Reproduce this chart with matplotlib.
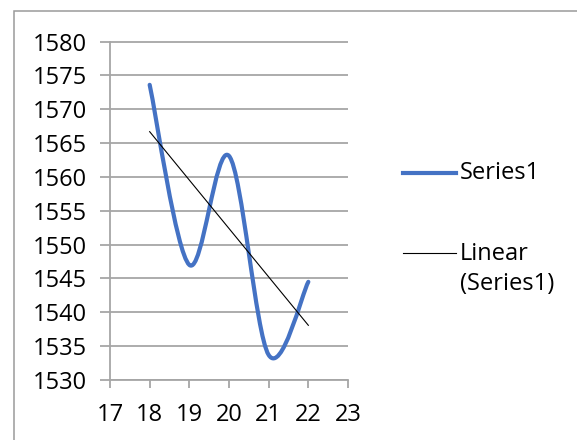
import numpy as np
import matplotlib
matplotlib.use("Agg")
import matplotlib.pyplot as plt
from matplotlib.path import Path
from matplotlib.patches import PathPatch, Rectangle
from matplotlib.lines import Line2D

plt.rcParams['font.family'] = ['Open Sans', 'DejaVu Sans']

# Data
x_vals = [18, 19, 20, 21, 22]
series1 = [1573.6, 1547.0, 1563.1, 1533.7, 1544.5]
x_ticks = [17, 18, 19, 20, 21, 22, 23]
y_ticks = [1530, 1535, 1540, 1545, 1550, 1555, 1560, 1565, 1570, 1575, 1580]
series_name = "Series1"
trend_name = "Linear\n(Series1)"

BLUE = "#4472C4"
GRID = "#A6A6A6"
FS = 17

fig = plt.figure(figsize=(5.77, 4.40), dpi=100)
fig.patch.set_facecolor("white")

# chart area border
fig.add_artist(Rectangle((14 / 577, -0.05), 1.0, 1 - 11.5 / 440 + 0.05,
                         transform=fig.transFigure, fill=False,
                         edgecolor="#9A9A9A", lw=1.1))

ax = fig.add_axes([110 / 577, 60 / 440, 238 / 577, 338.5 / 440])
ax.set_xlim(17, 23)
ax.set_ylim(1530, 1580)

# Smoothed line: cubic Bezier segments with Catmull-Rom style control points
xs = np.array(x_vals, dtype=float)
ys = np.array(series1, dtype=float)
pts = np.column_stack([xs, ys])
n = len(pts)
verts = [tuple(pts[0])]
codes = [Path.MOVETO]
for i in range(n - 1):
    p_prev = pts[i - 1] if i > 0 else pts[i]
    p_next2 = pts[i + 2] if i + 2 < n else pts[i + 1]
    c1 = pts[i] + (pts[i + 1] - p_prev) / 6.0
    c2 = pts[i + 1] - (p_next2 - pts[i]) / 6.0
    verts += [tuple(c1), tuple(c2), tuple(pts[i + 1])]
    codes += [Path.CURVE4] * 3
ax.add_patch(PathPatch(Path(verts, codes), facecolor="none", edgecolor=BLUE,
                       lw=3.0, capstyle="round", joinstyle="round", zorder=3))

# Linear trend line
slope, intercept = np.polyfit(xs, ys, 1)
tx = np.array([xs[0], xs[-1]])
ax.plot(tx, slope * tx + intercept, color="black", lw=0.8, zorder=4)

# Axes styling
ax.set_xticks(x_ticks)
ax.set_yticks(y_ticks)
ax.yaxis.grid(True, color=GRID, lw=1.3)
ax.set_axisbelow(True)
for s in ["top", "right"]:
    ax.spines[s].set_visible(False)
for s in ["left", "bottom"]:
    ax.spines[s].set_color(GRID)
    ax.spines[s].set_linewidth(1.3)
ax.tick_params(axis="y", length=7.2, width=1.3, color=GRID, pad=9.5,
               labelsize=FS, labelcolor="black")
ax.tick_params(axis="x", length=5.5, width=1.3, color=GRID, pad=11,
               labelsize=FS, labelcolor="black")

# Legend
fig.add_artist(Line2D([403 / 577, 456 / 577], [1 - 173 / 440] * 2,
                      transform=fig.transFigure, color=BLUE, lw=3.0))
fig.text(460 / 577, 1 - 173 / 440, series_name, fontsize=FS,
         va="center", ha="left")
fig.add_artist(Line2D([403 / 577, 456 / 577], [1 - 253 / 440] * 2,
                      transform=fig.transFigure, color="black", lw=0.8))
fig.text(460 / 577, 1 - 269 / 440, trend_name, fontsize=FS,
         va="center", ha="left", linespacing=1.3)

fig.savefig("out.png", dpi=100)
